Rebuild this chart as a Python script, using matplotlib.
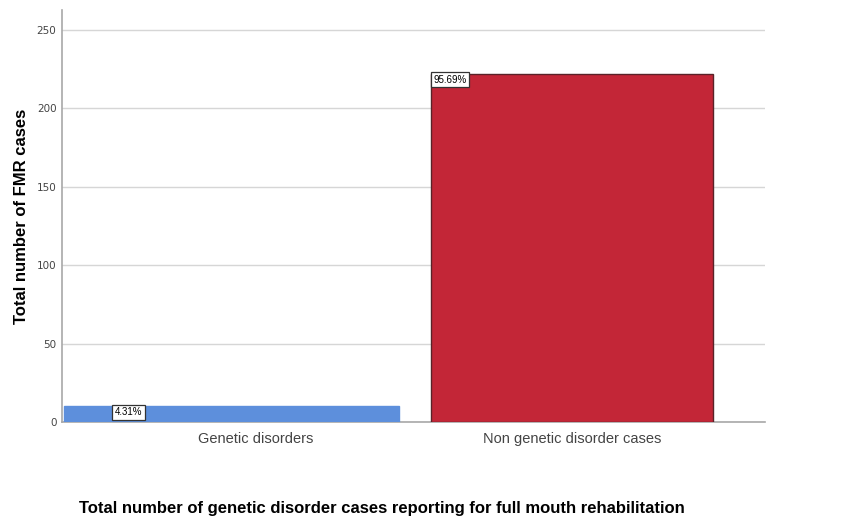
#!/bin/env python3
# bar chart of FMR cases, genetic vs non genetic disorders

import numpy as np
import matplotlib.pyplot as plt

categories = ["Genetic disorders", "Non genetic disorder cases"]
counts = [10, 222]
pct_labels = ["4.31%", "95.69%"]
yticks = [0, 50, 100, 150, 200, 250]

colors = ["#5d8fdc", "#c32637"]
edges = ["#5d8fdc", "#5a2228"]

plt.style.use('default')
f = plt.figure(figsize=(8.49, 5.2), dpi=100)
ax = f.add_axes([0.073, 0.1885, 0.828, 0.7925])

x = np.arange(len(categories))
# bars are not centred on their labels in the original (SPSS layout)
offsets = [-0.078, 0.0]
widths = [1.06, 0.895]
for i in range(len(categories)):
    ax.bar(x[i] + offsets[i], counts[i], widths[i], color=colors[i],
           edgecolor=edges[i], linewidth=1.0, zorder=3)

# percentage boxes
lab_x = [-0.447, x[1] + offsets[1] - widths[1] / 2 + 0.008]
for i in range(len(categories)):
    ax.text(lab_x[i], counts[i] - 0.5, pct_labels[i], fontsize=7, ha="left", va="top",
            zorder=4, family="Liberation Sans",
            bbox=dict(boxstyle="square,pad=0.25", fc="white", ec="#333333", lw=0.9))

ax.set_xlim(-0.614, 1.611)
ax.set_ylim(0, 262.7)
ax.set_yticks(yticks)
ax.set_xticks(x)
ax.set_xticklabels(categories, fontsize=10.5, color="#444444", family="Liberation Sans")
for t in ax.get_yticklabels():
    t.set_fontsize(7.5)
    t.set_color("#444444")
ax.tick_params(length=0, pad=4)
ax.tick_params(axis="x", pad=7)

ax.yaxis.grid(True, color="#d6d6d6", linewidth=1.0, zorder=0)
for s in ["top", "right"]:
    ax.spines[s].set_visible(False)
for s in ["left", "bottom"]:
    ax.spines[s].set_color("#a8a8a8")
    ax.spines[s].set_linewidth(1.2)

ax.set_ylabel("Total number of FMR cases", fontsize=12, fontweight="bold",
              family="Liberation Sans")
ax.yaxis.set_label_coords(-0.047, 0.5)
f.text(382 / 849, 12 / 520, "Total number of genetic disorder cases reporting for full mouth rehabilitation",
       ha="center", va="center", fontsize=12, fontweight="bold", family="Liberation Sans")

f.savefig("out.png", dpi=100)
